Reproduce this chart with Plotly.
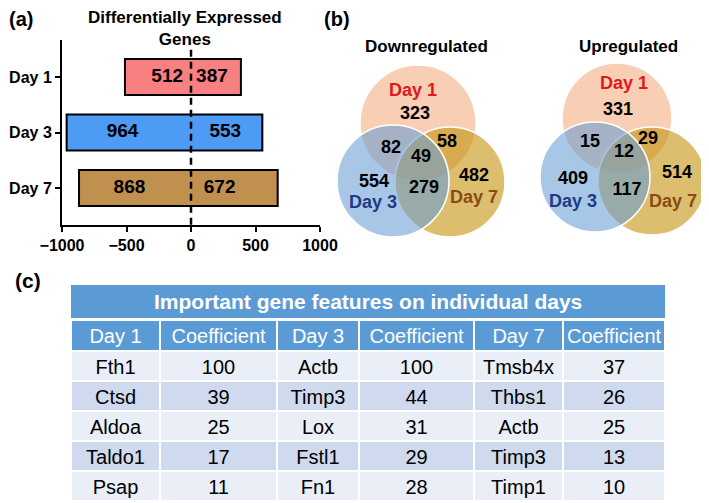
import plotly.graph_objects as go

OFF = 8  # page body margin
W, H = 709 - OFF, 503 - OFF

# ---------------- data ----------------
days = ["Day 1", "Day 3", "Day 7"]
down_counts = [512, 964, 868]
up_counts = [387, 553, 672]
x_ticks = [-1000, -500, 0, 500, 1000]

# venn regions order: D1 only, D1&D3, D1&D7, all three, D3 only, D3&D7, D7 only
down_venn_counts = [323, 82, 58, 49, 554, 279, 482]
up_venn_counts = [331, 15, 29, 12, 409, 117, 514]

table_title = "Important gene features on individual days"
table_header = ["Day 1", "Coefficient", "Day 3", "Coefficient", "Day 7", "Coefficient"]
day1_genes = ["Fth1", "Ctsd", "Aldoa", "Taldo1", "Psap"]
day1_coef = [100, 39, 25, 17, 11]
day3_genes = ["Actb", "Timp3", "Lox", "Fstl1", "Fn1"]
day3_coef = [100, 44, 31, 29, 28]
day7_genes = ["Tmsb4x", "Thbs1", "Actb", "Timp3", "Timp1"]
day7_coef = [37, 26, 25, 13, 10]

# ---------------- style / layout ----------------
FONT = "Liberation Sans, Arial, sans-serif"
bar_colors = ["#F88080", "#4D9BF4", "#C0904F"]
neg_label_frac = [0.36, 0.55, 0.55]
pos_label_frac = [0.42, 0.48, 0.33]

def px(x):
    return (x - OFF) / W

def py(y):
    return 1 - (y - OFF) / H

fig = go.Figure()

# ---------- panel (a) ----------
totals = [d + u for d, u in zip(down_counts, up_counts)]
bases = [-d for d in down_counts]
ypos = list(range(len(days)))
fig.add_trace(go.Bar(
    orientation="h", y=ypos, x=totals, base=bases, width=0.65,
    marker=dict(color=bar_colors, line=dict(color="black", width=2)),
    xaxis="x", yaxis="y", showlegend=False, hoverinfo="skip",
))
fig.add_trace(go.Scatter(
    x=[-d * f for d, f in zip(down_counts, neg_label_frac)], y=ypos,
    text=[str(d) for d in down_counts], mode="text",
    textfont=dict(family=FONT, size=19, color="black", weight="bold"),
    xaxis="x", yaxis="y", showlegend=False, hoverinfo="skip",
))
fig.add_trace(go.Scatter(
    x=[u * f for u, f in zip(up_counts, pos_label_frac)], y=ypos,
    text=[str(u) for u in up_counts], mode="text",
    textfont=dict(family=FONT, size=19, color="black", weight="bold"),
    xaxis="x", yaxis="y", showlegend=False, hoverinfo="skip",
))

shapes = []
shapes.append(dict(type="line", xref="x", yref="y", x0=0, x1=0, y0=-0.49, y1=2.667,
                   line=dict(color="black", width=2.5, dash="7px,5px"), layer="above"))

# ---------- panel (b) venn ----------
# geometry in venn axis units (1 unit = 1 px)
down_circles = [(418, 123, 58), (393, 181, 56), (450, 182, 55)]
up_circles = [(617, 118, 55), (595, 177, 55), (652, 181, 54)]
circle_fills = ["rgba(248,207,180,1)", "rgba(105,157,212,0.58)", "rgba(197,147,13,0.6)"]
draw_order = [0, 2, 1]  # Day1 bottom, Day7, Day3 on top
for circles in (down_circles, up_circles):
    for i in draw_order:
        cx, cy, r = circles[i]
        shapes.append(dict(type="circle", xref="x2", yref="y2",
                           x0=cx - r, x1=cx + r, y0=cy - r, y1=cy + r,
                           fillcolor=circle_fills[i], line=dict(color="white", width=1.5),
                           layer="below"))

down_count_pos = [(415, 114), (391, 148), (447, 142), (421, 157), (374, 182), (424, 188), (474, 176)]
up_count_pos = [(618, 110), (590, 142), (648, 139), (624, 152), (573, 179), (627, 190), (677, 173)]
for counts, pos in ((down_venn_counts, down_count_pos), (up_venn_counts, up_count_pos)):
    fig.add_trace(go.Scatter(
        x=[p[0] for p in pos], y=[p[1] for p in pos], text=[str(c) for c in counts],
        mode="text", textfont=dict(family=FONT, size=18, color="black", weight="bold"),
        xaxis="x2", yaxis="y2", showlegend=False, hoverinfo="skip",
    ))

set_label_colors = ["#E3161B", "#1E3A84", "#8A4A14"]
down_label_pos = [(413, 91), (373, 203), (474, 198)]
up_label_pos = [(624, 84), (573, 202), (673, 202)]
for pos in (down_label_pos, up_label_pos):
    fig.add_trace(go.Scatter(
        x=[p[0] for p in pos], y=[p[1] for p in pos], text=days,
        mode="text", textfont=dict(family=FONT, size=18, color=set_label_colors, weight="bold"),
        xaxis="x2", yaxis="y2", showlegend=False, hoverinfo="skip",
    ))

# ---------- panel (c) table ----------
row_fill = ["#E9EEF7", "#CFDAEE", "#E9EEF7", "#CFDAEE", "#E9EEF7"]
fig.add_trace(go.Table(
    domain=dict(x=[px(71), px(665)], y=[0, py(320)]),
    columnwidth=[89, 117, 82, 115, 89, 102],
    header=dict(values=table_header, fill_color="#5B9BD5", align="center",
                line=dict(color="white", width=2), height=31,
                font=dict(family=FONT, size=20, color="white")),
    cells=dict(values=[day1_genes, day1_coef, day3_genes, day3_coef, day7_genes, day7_coef],
               fill_color=[row_fill] * 6, align="center",
               line=dict(color="white", width=2), height=30,
               font=dict(family=FONT, size=20, color="black")),
))
shapes.append(dict(type="rect", xref="paper", yref="paper",
                   x0=px(71), x1=px(665), y0=py(318), y1=py(285),
                   fillcolor="#5B9BD5", line=dict(width=0)))

annotations = [
    dict(text="(a)", x=px(21), y=py(19), font=dict(size=20)),
    dict(text="(b)", x=px(337), y=py(19), font=dict(size=20)),
    dict(text="(c)", x=px(28), y=py(280), font=dict(size=21)),
    dict(text="Differentially Expressed<br>Genes", x=px(185), y=py(28), font=dict(size=17)),
    dict(text="Downregulated", x=px(426), y=py(46), font=dict(size=17)),
    dict(text="Upregulated", x=px(628), y=py(46), font=dict(size=17)),
    dict(text=table_title, x=px(368), y=py(301), font=dict(size=21, color="white")),
]
for a in annotations:
    a.update(xref="paper", yref="paper", xanchor="center", yanchor="middle", showarrow=False)
    f = a["font"]
    f.setdefault("color", "black")
    f.update(family=FONT, weight="bold")

fig.update_layout(
    width=W, height=H, margin=dict(l=0, r=0, t=0, b=0, autoexpand=False),
    paper_bgcolor="white", plot_bgcolor="white",
    shapes=shapes, annotations=annotations, showlegend=False,
    xaxis=dict(domain=[px(62), px(320)], range=[-1000, 1000], tickvals=x_ticks,
               showline=True, linecolor="black", linewidth=2, ticks="outside",
               ticklen=5, tickwidth=2, tickcolor="black", showgrid=False, zeroline=False,
               tickfont=dict(family=FONT, size=16, color="black", weight="bold"),
               anchor="y", fixedrange=True, automargin=False),
    yaxis=dict(domain=[py(225), py(40)], range=[2.667, -0.667], tickvals=ypos, ticktext=days,
               showline=True, linecolor="black", linewidth=2, ticks="outside",
               ticklen=5, tickwidth=2, tickcolor="black", showgrid=False, zeroline=False,
               tickfont=dict(family=FONT, size=16, color="black", weight="bold"),
               anchor="x", fixedrange=True, automargin=False),
    xaxis2=dict(domain=[px(330), 1], range=[330, 709], visible=False, anchor="y2",
                fixedrange=True, automargin=False),
    yaxis2=dict(domain=[py(245), py(40)], range=[245, 40], visible=False, anchor="x2",
                fixedrange=True, automargin=False),
)

fig.write_html("out.html")
